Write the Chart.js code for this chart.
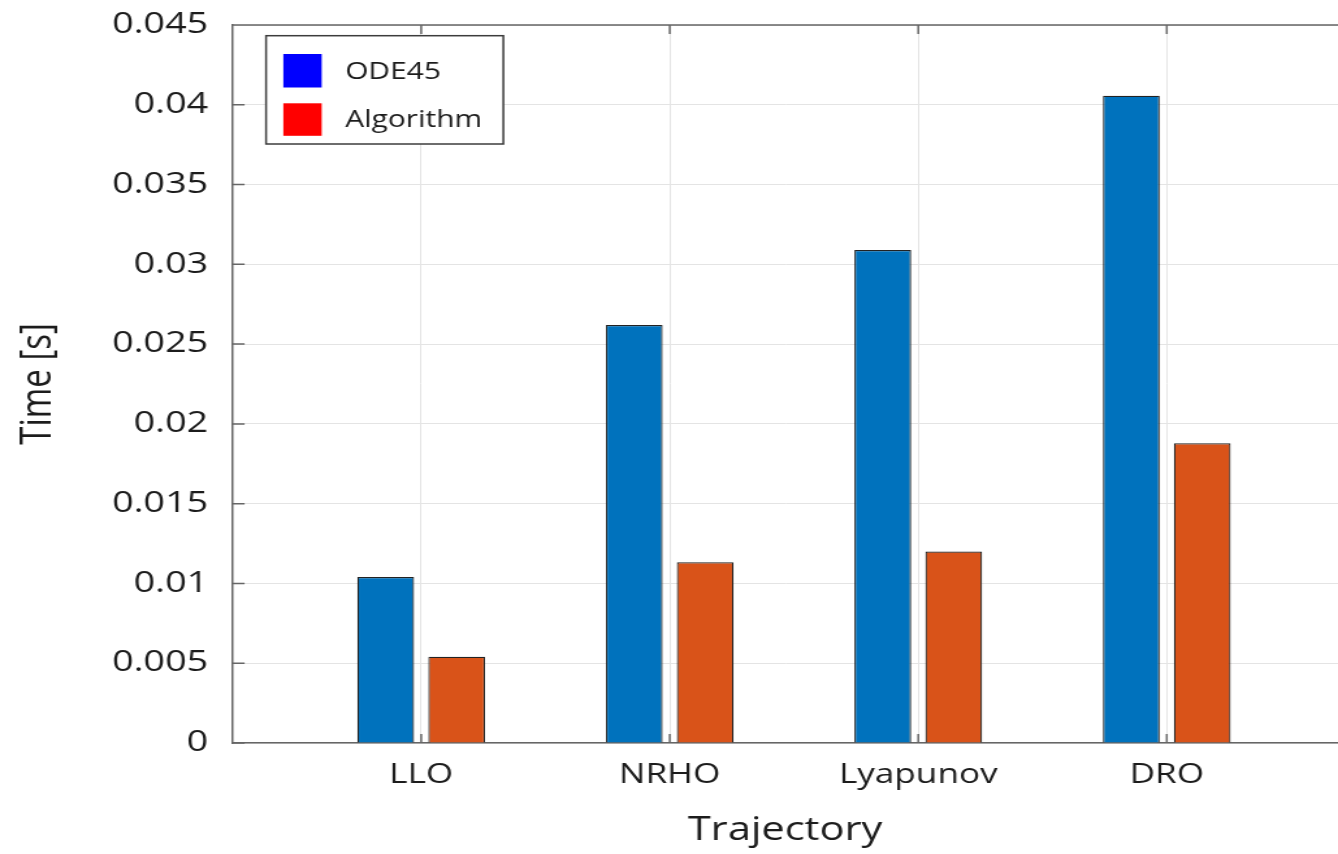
<!DOCTYPE html>
<html>
<head>
<meta charset="utf-8">
<title>Computation time per trajectory</title>
<script src="https://cdn.jsdelivr.net/npm/chart.js@4.4.1/dist/chart.umd.min.js"></script>
<style>
  html, body { margin: 0; padding: 0; background: #ffffff; overflow: hidden; }
  #wrap { width: 1338px; height: 854px; overflow: hidden; }
  /* the figure is drawn on a narrower canvas and widened horizontally */
  #c { display: block; transform-origin: 0 0; transform: scaleX(1.30029); }
</style>
</head>
<body>
<div id="wrap"><canvas id="c" width="1029" height="854"></canvas></div>
<script>
// ---- data ----
const categories = ['LLO', 'NRHO', 'Lyapunov', 'DRO'];
const seriesNames = ['ODE45', 'Algorithm'];
const ode45Times = [0.0104, 0.0262, 0.0309, 0.04057];
const algorithmTimes = [0.0054, 0.01133, 0.0120, 0.01878];
const yTickValues = [0, 0.005, 0.01, 0.015, 0.02, 0.025, 0.03, 0.035, 0.04, 0.045];
const yTickLabels = ['0', '0.005', '0.01', '0.015', '0.02', '0.025', '0.03', '0.035', '0.04', '0.045'];

// ---- styling ----
const FONT = "'Open Sans', 'DejaVu Sans', sans-serif";
const TEXT = '#1c1c1c';
const AXIS = '#666666';
const GRID = '#e4e4e4';
const BAR_COLORS = ['#0072BD', '#D95319'];
const KEY_COLORS = ['#0000FF', '#FF0000'];

const xPos = categories.map((_, i) => i + 1);
const toPoints = vals => vals.map((v, i) => ({ x: xPos[i], y: v }));

// box, key swatches and inward tick marks on the plot frame
const framePlugin = {
  id: 'frame',
  afterDatasetsDraw(chart) {
    const { ctx, chartArea: a, scales: { x, y } } = chart;
    ctx.save();
    ctx.strokeStyle = AXIS;
    ctx.lineWidth = 1.5;
    ctx.beginPath();
    ctx.moveTo(a.left, a.top);
    ctx.lineTo(a.right, a.top);
    x.ticks.forEach(t => {
      const px = x.getPixelForValue(t.value);
      ctx.moveTo(px, a.top); ctx.lineTo(px, a.top + 9);
      ctx.moveTo(px, a.bottom); ctx.lineTo(px, a.bottom - 9);
    });
    y.ticks.forEach(t => {
      const py = y.getPixelForValue(t.value);
      ctx.moveTo(a.left, py); ctx.lineTo(a.left + 9.5, py);
    });
    ctx.stroke();
    ctx.restore();
  },
  afterDraw(chart) {
    const { ctx } = chart;
    const box = { left: 204.6, top: 35.7, right: 387.1, bottom: 144 };
    ctx.save();
    ctx.fillStyle = '#ffffff';
    ctx.fillRect(box.left, box.top, box.right - box.left, box.bottom - box.top);
    ctx.strokeStyle = '#3c3c3c';
    ctx.lineWidth = 1.5;
    ctx.strokeRect(box.left, box.top, box.right - box.left, box.bottom - box.top);
    const rows = [{ top: 54, h: 33.5, mid: 72 }, { top: 103.3, h: 32.5, mid: 120.5 }];
    chart.data.datasets.forEach((ds, i) => {
      const r = rows[i];
      ctx.fillStyle = KEY_COLORS[i];
      ctx.fillRect(217.9, r.top, 29.5, r.h);
      ctx.fillStyle = TEXT;
      ctx.font = `23px ${FONT}`;
      ctx.textAlign = 'left';
      ctx.textBaseline = 'middle';
      ctx.fillText(ds.label, 265.4, r.mid);
    });
    ctx.restore();
  }
};

new Chart(document.getElementById('c'), {
  type: 'bar',
  data: {
    datasets: [
      {
        label: seriesNames[0],
        data: toPoints(ode45Times),
        backgroundColor: BAR_COLORS[0],
        borderColor: '#222222',
        borderWidth: 1.2
      },
      {
        label: seriesNames[1],
        data: toPoints(algorithmTimes),
        backgroundColor: BAR_COLORS[1],
        borderColor: '#222222',
        borderWidth: 1.2
      }
    ]
  },
  options: {
    responsive: false,
    animation: false,
    events: [],
    categoryPercentage: 0.571,
    barPercentage: 0.80,
    layout: { padding: { top: 25, right: 0, bottom: 0, left: 0 } },
    plugins: {
      legend: { display: false },
      tooltip: { enabled: false }
    },
    scales: {
      x: {
        type: 'linear',
        min: 0.2396,
        max: 4.689,
        offset: false,
        grid: { color: GRID, lineWidth: 1, drawTicks: false, offset: false },
        border: { display: true, color: AXIS, width: 1.5 },
        afterBuildTicks(scale) {
          scale.ticks = xPos.map(v => ({ value: v }));
        },
        afterFit(scale) {
          scale.height = 111;
          scale.paddingLeft = 0;
          scale.paddingRight = 0;
        },
        ticks: {
          autoSkip: false,
          maxRotation: 0,
          padding: 16,
          color: TEXT,
          font: { family: FONT, size: 27 },
          callback: v => categories[Math.round(v) - 1]
        },
        title: {
          display: true,
          text: 'Trajectory',
          color: TEXT,
          font: { family: FONT, size: 32 },
          padding: { top: 0, bottom: 4 }
        }
      },
      y: {
        min: 0,
        max: 0.045,
        grid: { color: GRID, lineWidth: 1, drawTicks: false },
        border: { display: true, color: AXIS, width: 1.5 },
        afterBuildTicks(scale) {
          scale.ticks = yTickValues.map(v => ({ value: v }));
        },
        afterFit(scale) {
          scale.width = 178.6;
          scale.paddingTop = 0;
          scale.paddingBottom = 0;
        },
        ticks: {
          padding: 18.5,
          color: TEXT,
          font: { family: FONT, size: 29 },
          callback: (v, i) => yTickLabels[i]
        },
        title: {
          display: true,
          text: 'Time [s]',
          color: TEXT,
          font: { family: FONT, size: 33 },
          padding: { top: 10, bottom: 0 }
        }
      }
    }
  },
  plugins: [framePlugin]
});
</script>
</body>
</html>
